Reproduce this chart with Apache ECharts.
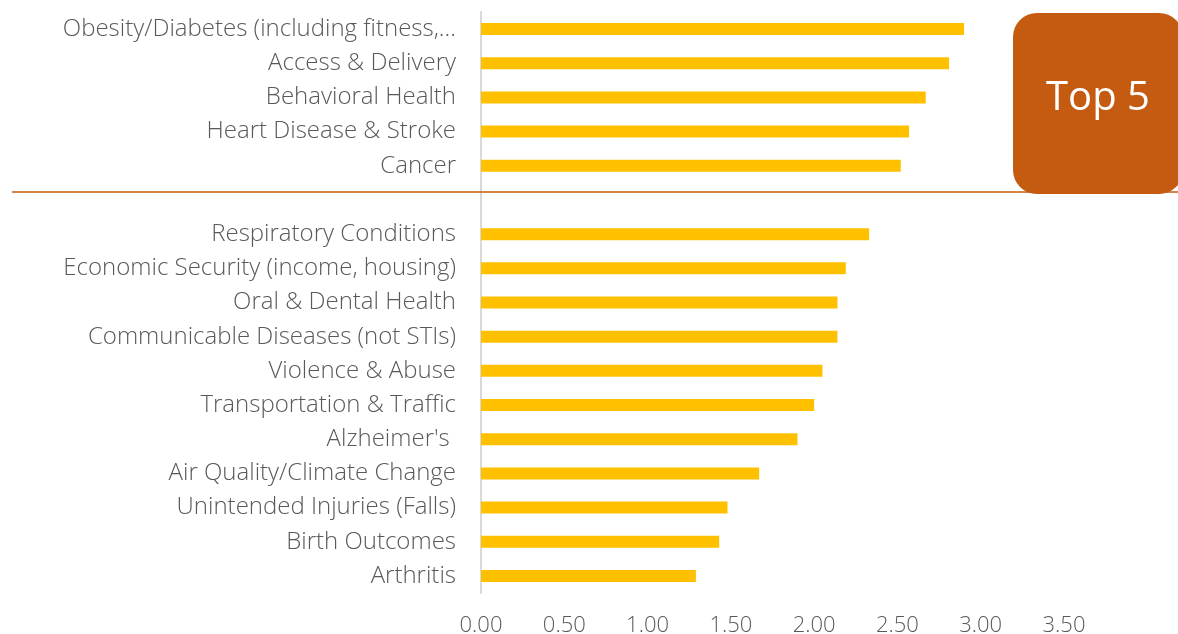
<!DOCTYPE html>
<html>
<head>
<meta charset="utf-8">
<script src="https://cdn.jsdelivr.net/npm/echarts@6/dist/echarts.min.js"></script>
<style>
html,body{margin:0;padding:0;background:#fff;}
#chart{width:1178px;height:634px;}
</style>
</head>
<body>
<div id="chart"></div>
<script>
const categories = [
  "Obesity/Diabetes (including fitness,...",
  "Access & Delivery",
  "Behavioral Health",
  "Heart Disease & Stroke",
  "Cancer",
  "",
  "Respiratory Conditions",
  "Economic Security (income, housing)",
  "Oral & Dental Health",
  "Communicable Diseases (not STIs)",
  "Violence & Abuse",
  "Transportation & Traffic",
  "Alzheimer's ",
  "Air Quality/Climate Change",
  "Unintended Injuries (Falls)",
  "Birth Outcomes",
  "Arthritis"
];
const values = [2.90, 2.81, 2.67, 2.57, 2.52, null, 2.33, 2.19, 2.14, 2.14, 2.05, 2.00, 1.90, 1.67, 1.48, 1.43, 1.29];
const xTicks = { min: 0, max: 3.5, interval: 0.5 };
const boxLabel = "Top 5";

const chart = echarts.init(document.getElementById('chart'), null, { renderer: 'canvas' });
const FONT = '"Open Sans", sans-serif';
chart.setOption({
  animation: false,
  backgroundColor: '#ffffff',
  grid: { left: 481, right: 114, top: 12, bottom: 41, containLabel: false, outerBoundsMode: 'none' },
  xAxis: {
    type: 'value',
    min: xTicks.min, max: xTicks.max, interval: xTicks.interval,
    axisLine: { show: false },
    axisTick: { show: false },
    splitLine: { show: false },
    axisLabel: {
      formatter: v => v.toFixed(2),
      color: '#595959', fontFamily: FONT, fontSize: 22, fontWeight: 300, margin: 22
    }
  },
  yAxis: {
    type: 'category',
    data: categories,
    inverse: true,
    axisLine: { show: true, lineStyle: { color: '#d9d9d9', width: 2 } },
    axisTick: { show: false },
    splitLine: { show: false },
    axisLabel: {
      color: '#595959', fontFamily: FONT, fontSize: 24, fontWeight: 300, margin: 25,
      padding: [2, 0, 0, 0]
    }
  },
  series: [{
    type: 'bar',
    data: values,
    barWidth: 12,
    itemStyle: { color: '#FFC000' },
    z: 3
  }],
  graphic: [
    {
      type: 'line',
      shape: { x1: 12, y1: 192, x2: 1178, y2: 192 },
      style: { stroke: '#C55A11', lineWidth: 1.5 },
      z: 10
    },
    {
      type: 'rect',
      shape: { x: 1013, y: 13, width: 170, height: 181, r: 24 },
      style: { fill: '#C55A11' },
      z: 11
    },
    {
      type: 'text',
      x: 1098, y: 99,
      style: {
        text: boxLabel, fill: '#ffffff', fontFamily: FONT, fontSize: 40,
        align: 'center', verticalAlign: 'middle'
      },
      z: 12
    }
  ]
});
</script>
</body>
</html>
